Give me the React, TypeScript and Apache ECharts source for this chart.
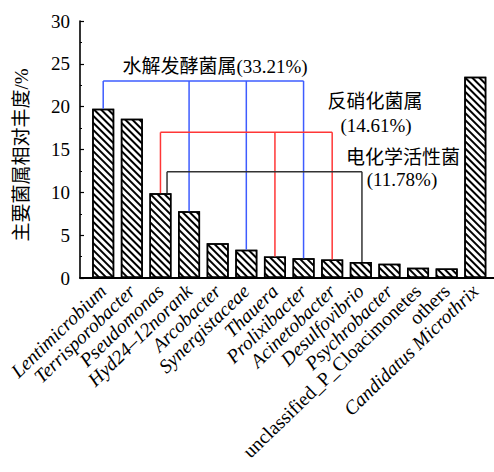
import React, { useEffect, useRef } from "react";
import * as echarts from "echarts";

// ---- data ----
const categories = [
  "Lentimicrobium",
  "Terrisporobacter",
  "Pseudomonas",
  "Hyd24–12norank",
  "Arcobacter",
  "Synergistaceae",
  "Thauera",
  "Prolixibacter",
  "Acinetobacter",
  "Desulfovibrio",
  "Psychrobacter",
  "unclassified_P_Cloacimonetes",
  "others",
  "Candidatus Microthrix",
];
const abundance = [19.75, 18.6, 9.9, 7.8, 4.05, 3.3, 2.5, 2.3, 2.15, 1.88, 1.65, 1.2, 1.1, 23.5];

const groupNames = ["水解发酵菌属", "反硝化菌属", "电化学活性菌"];
const groupShares = ["33.21%", "14.61%", "11.78%"];
const groupMembers = [
  ["Lentimicrobium", "Hyd24–12norank", "Synergistaceae", "Prolixibacter"],
  ["Pseudomonas", "Thauera", "Acinetobacter"],
  ["Pseudomonas", "Desulfovibrio"],
];
const groupLevels = [23, 17, 12.4];

const yAxisTitle = "主要菌属相对丰度/%";

// ---- styles ----
const UPRIGHT = ["unclassified_P_Cloacimonetes", "others"];
const groupColors = ["#3d5cff", "#ff3636", "#333333"];
const bracketShift = [[0, 0, 0, 0], [0, 0, 0], [0.23, 0.04]];
const FONT = "'Liberation Serif', 'Noto Sans CJK SC', serif";

export default function App() {
  const ref = useRef<HTMLDivElement>(null);
  useEffect(() => {
    if (!ref.current) return;
    const chart = echarts.init(ref.current, null, { renderer: "svg" });
    const top = 21;
    const bottom = 194;
    const option: any = {
      animation: false,
      aria: { enabled: true, decal: { show: true } },
      grid: [
        { left: 80, right: 0, top, bottom },
        { left: 88.9, right: 4.4, top, bottom },
      ],
      xAxis: [
        {
          gridIndex: 0,
          type: "value",
          min: 0,
          max: 1,
          axisLine: { show: true, lineStyle: { color: "#000", width: 1.8 } },
          axisTick: { show: false },
          axisLabel: { show: false },
          splitLine: { show: false },
        },
        {
          gridIndex: 1,
          type: "category",
          data: categories,
          axisLine: { show: false },
          axisTick: { show: false },
          axisLabel: {
            interval: 0,
            rotate: 44,
            margin: 10,
            color: "#000",
            fontFamily: FONT,
            fontSize: 19.5,
            formatter: (v: string) => (UPRIGHT.includes(v) ? `{n|${v}}` : `{i|${v}}`),
            rich: {
              i: { fontStyle: "italic", fontFamily: FONT, fontSize: 19.5, color: "#000" },
              n: { fontStyle: "normal", fontFamily: FONT, fontSize: 19.5, color: "#000" },
            },
          },
        },
      ],
      yAxis: [
        {
          gridIndex: 0,
          type: "value",
          min: 0,
          max: 30,
          interval: 5,
          axisLine: { show: true, lineStyle: { color: "#000", width: 1.6 } },
          axisTick: { show: true, inside: true, length: 4, lineStyle: { color: "#000", width: 1.2 } },
          minorTick: { show: true, splitNumber: 2, length: 2, lineStyle: { color: "#000", width: 1 } },
          axisLabel: { color: "#000", fontFamily: FONT, fontSize: 19, margin: 10 },
          splitLine: { show: false },
        },
        {
          gridIndex: 1,
          type: "value",
          min: 0,
          max: 30,
          show: false,
          splitLine: { show: false },
        },
      ],
      series: [
        {
          type: "bar",
          xAxisIndex: 1,
          yAxisIndex: 1,
          data: abundance,
          barWidth: 22,
          itemStyle: {
            color: "#ffffff",
            borderColor: "#000",
            borderWidth: 1.5,
            decal: {
              symbol: "rect",
              symbolSize: 1,
              color: "#000",
              dashArrayX: [1, 0],
              dashArrayY: [1.5, 2.2],
              rotation: Math.PI / 4,
            },
          },
          z: 2,
        },
        {
          type: "custom",
          xAxisIndex: 1,
          yAxisIndex: 1,
          z: 5,
          data: groupLevels.map((lv, i) => [i, lv]),
          encode: { x: 0, y: 1 },
          renderItem: (params: any, api: any) => {
            const g = params.dataIndex;
            const members = groupMembers[g].map((n) => categories.indexOf(n));
            const level = groupLevels[g];
            const band = api.size([1, 0])[0];
            const xs = members.map((m, k) => api.coord([m, 0])[0] + (bracketShift[g][k] || 0) * band);
            const yLevel = api.coord([0, level])[1];
            const style = { stroke: groupColors[g], lineWidth: 1.5, fill: "none" };
            const children: any[] = [
              { type: "line", shape: { x1: xs[0], y1: yLevel, x2: xs[xs.length - 1], y2: yLevel }, style },
            ];
            members.forEach((m, k) => {
              const yTop = api.coord([m, abundance[m]])[1];
              children.push({ type: "line", shape: { x1: xs[k], y1: yLevel, x2: xs[k], y2: yTop }, style });
            });
            return { type: "group", children };
          },
        },
      ],
      graphic: [
        {
          type: "text",
          x: 21,
          y: 155,
          rotation: Math.PI / 2,
          style: { text: yAxisTitle, fontFamily: FONT, fontSize: 19, fill: "#000", align: "center", verticalAlign: "middle" },
        },
        {
          type: "text",
          x: 215,
          y: 66,
          style: { text: `${groupNames[0]}(${groupShares[0]})`, fontFamily: FONT, fontSize: 19, fill: "#000", align: "center", verticalAlign: "middle" },
        },
        {
          type: "text",
          x: 375,
          y: 101,
          style: { text: groupNames[1], fontFamily: FONT, fontSize: 19, fill: "#000", align: "center", verticalAlign: "middle" },
        },
        {
          type: "text",
          x: 376,
          y: 125,
          style: { text: `(${groupShares[1]})`, fontFamily: FONT, fontSize: 19, fill: "#000", align: "center", verticalAlign: "middle" },
        },
        {
          type: "text",
          x: 403,
          y: 157,
          style: { text: groupNames[2], fontFamily: FONT, fontSize: 19, fill: "#000", align: "center", verticalAlign: "middle" },
        },
        {
          type: "text",
          x: 402,
          y: 179,
          style: { text: `(${groupShares[2]})`, fontFamily: FONT, fontSize: 19, fill: "#000", align: "center", verticalAlign: "middle" },
        },
      ],
    };
    chart.setOption(option);
    return () => chart.dispose();
  }, []);
  return <div ref={ref} style={{ position: "fixed", left: 0, top: 0, width: 494, height: 472, background: "#fff" }} />;
}
